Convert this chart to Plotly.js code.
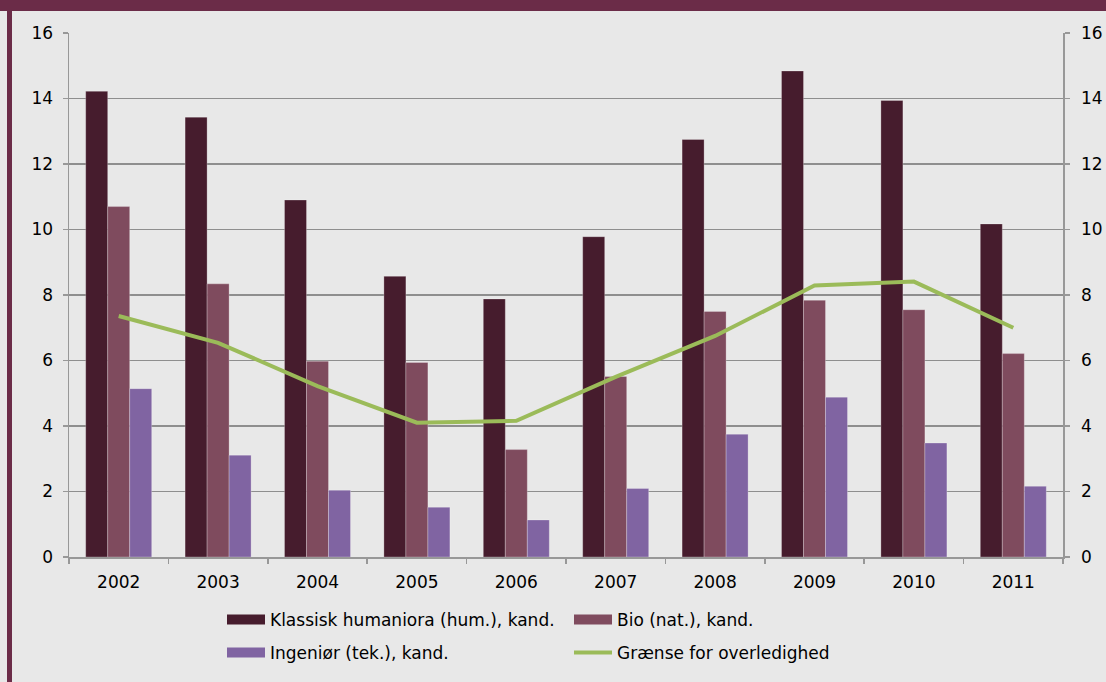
<!DOCTYPE html>
<html>
<head>
<meta charset="utf-8">
<script src="https://cdn.plot.ly/plotly-3.0.1.min.js"></script>
<style>
  html, body { margin: 0; padding: 0; background: #e8e8e8; }
  #wrap { position: relative; width: 1106px; height: 682px; overflow: hidden; }
  #chart { position: absolute; left: 0; top: 0; width: 1106px; height: 682px; }
  .topbar { position: absolute; left: 0; top: 0; width: 1106px; height: 11px; background: #6b2c48; pointer-events: none; }
  .leftbar { position: absolute; left: 7px; top: 11px; width: 5px; height: 671px; background: #6b2c48; pointer-events: none; }
</style>
</head>
<body>
<div id="wrap">
  <div id="chart"></div>
  <div class="topbar"></div>
  <div class="leftbar"></div>
</div>
<script>
const years = ['2002', '2003', '2004', '2005', '2006', '2007', '2008', '2009', '2010', '2011'];
const klassisk = [14.22, 13.43, 10.9, 8.57, 7.88, 9.78, 12.75, 14.84, 13.94, 10.17];
const bio = [10.7, 8.34, 5.98, 5.94, 3.28, 5.51, 7.5, 7.84, 7.55, 6.21];
const ingenior = [5.14, 3.11, 2.04, 1.52, 1.13, 2.09, 3.75, 4.88, 3.48, 2.16];
const graense = [7.36, 6.54, 5.22, 4.1, 4.16, 5.5, 6.75, 8.29, 8.41, 7.0];
const seriesNames = ['Klassisk humaniora (hum.), kand.', 'Bio (nat.), kand.', 'Ingeniør (tek.), kand.', 'Grænse for overledighed'];
const yTicks = [0, 2, 4, 6, 8, 10, 12, 14, 16];

const cKl = '#461c2d', cBio = '#7f4b5e', cIng = '#8064a2', cGr = '#9bbb59';
const FONT = 'DejaVu Sans, Verdana, sans-serif';

function barTrace(name, vals, color) {
  return { type: 'bar', x: years, y: vals, name: name, showlegend: false,
    marker: { color: color, line: { color: 'rgba(255,255,255,0.25)', width: 1 } },
    hoverinfo: 'x+y' };
}
function legendSwatch(name, color, width, legendId) {
  return { type: 'scatter', mode: 'lines', x: [null], y: [null], name: name,
    line: { color: color, width: width }, legend: legendId, hoverinfo: 'skip' };
}

const traces = [
  barTrace(seriesNames[0], klassisk, cKl),
  barTrace(seriesNames[1], bio, cBio),
  barTrace(seriesNames[2], ingenior, cIng),
  { type: 'scatter', mode: 'lines', x: years, y: graense, name: seriesNames[3], yaxis: 'y2',
    line: { color: cGr, width: 4 }, showlegend: false },
  legendSwatch(seriesNames[0], cKl, 10, 'legend'),
  legendSwatch(seriesNames[1], cBio, 10, 'legend2'),
  legendSwatch(seriesNames[2], cIng, 10, 'legend3'),
  legendSwatch(seriesNames[3], cGr, 4, 'legend4')
];

const L = 69, R = 43, T = 33, B = 124;
const plotW = 1106 - L - R, plotH = 682 - T - B;
function px2x(px) { return (px - L) / plotW; }
function px2y(py) { return (682 - B - py) / plotH; }

function leg(xpx, ypx) {
  return { x: px2x(xpx), y: px2y(ypx), xanchor: 'left', yanchor: 'middle', orientation: 'h',
    bgcolor: 'rgba(0,0,0,0)', borderwidth: 0, itemwidth: 38,
    font: { family: FONT, size: 17, color: '#000' } };
}

const axisCommon = {
  range: [0, 16], tickvals: yTicks, ticktext: yTicks.map(String),
  ticks: 'outside', ticklen: 5, tickcolor: '#989898', tickwidth: 1.5,
  showline: true, linecolor: '#989898', linewidth: 1.5, zeroline: false,
  tickfont: { family: FONT, size: 17, color: '#000' }, fixedrange: true
};

const layout = {
  width: 1106, height: 682, autosize: false,
  margin: { l: L, r: R, t: T, b: B, pad: 0 },
  paper_bgcolor: '#e8e8e8', plot_bgcolor: '#e8e8e8',
  barmode: 'group', bargap: 0.336, bargroupgap: 0,
  xaxis: {
    type: 'category', range: [-0.5, 9.5], tickson: 'boundaries', ticks: 'outside', ticklen: 5,
    tickcolor: '#989898', tickwidth: 1.5, showline: true, linecolor: '#989898', linewidth: 1.5,
    showgrid: false, zeroline: false, tickfont: { family: FONT, size: 17, color: '#000' },
    ticklabelstandoff: 9, fixedrange: true
  },
  yaxis: Object.assign({}, axisCommon, { showgrid: true, gridcolor: '#8e8e8e', gridwidth: 1.5, ticklabelstandoff: 6 }),
  yaxis2: Object.assign({}, axisCommon, { overlaying: 'y', side: 'right', showgrid: false, ticklabelstandoff: 8 }),
  legend: leg(222, 620),
  legend2: leg(569, 620),
  legend3: leg(222, 653),
  legend4: leg(569, 653),
  showlegend: true
};

Plotly.newPlot('chart', traces, layout, { displayModeBar: false, staticPlot: true });
</script>
</body>
</html>
